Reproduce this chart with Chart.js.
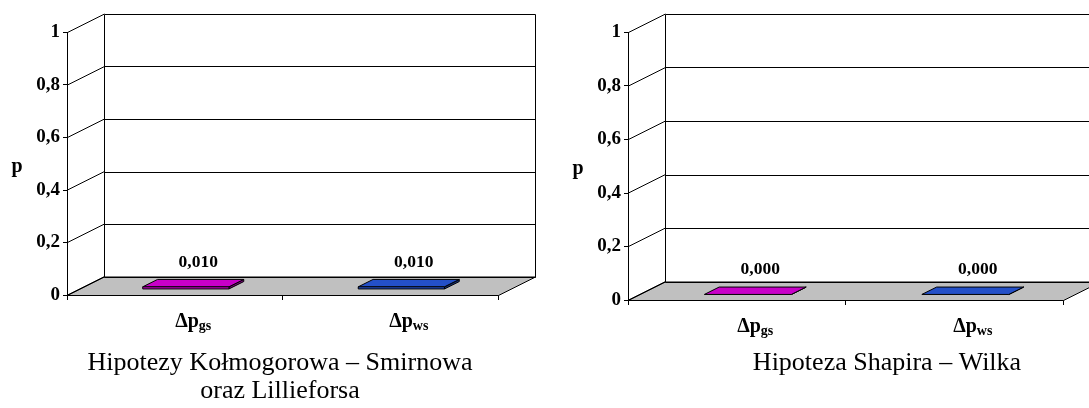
<!DOCTYPE html>
<html><head><meta charset="utf-8">
<script src="https://cdn.jsdelivr.net/npm/chart.js@4.4.0/dist/chart.umd.min.js"></script>
<style>
html,body{margin:0;padding:0;background:#fff;overflow:hidden}
#wrap{position:relative;width:1089px;height:408px}
canvas{position:absolute;top:0}
</style></head><body>
<div id="wrap">
<canvas id="c1" width="545" height="408" style="left:0"></canvas>
<canvas id="c2" width="544" height="408" style="left:545px"></canvas>
</div>
<script>
// ---- data ----
const categoryMain = ['Δp', 'Δp'];
const categorySub = ['gs', 'ws'];
const valuesKS = [0.010, 0.010];   // Hipotezy Kołmogorowa – Smirnowa oraz Lillieforsa
const valuesSW = [0.000, 0.000];   // Hipoteza Shapira – Wilka
const barColors = ['#c800c8', '#2450c8'];
const yTicks = [0, 0.2, 0.4, 0.6, 0.8, 1];
const yTickLabels = ['0', '0,2', '0,4', '0,6', '0,8', '1'];
const axisTitle = 'p';
const captionKS = ['Hipotezy Kołmogorowa – Smirnowa', 'oraz Lillieforsa'];
const captionSW = ['Hipoteza Shapira – Wilka'];

const SERIF = "'Times New Roman', 'Liberation Serif', serif";

function shade(hex, k) {
  const n = parseInt(hex.slice(1), 16);
  const r = Math.round(((n >> 16) & 255) * k), g = Math.round(((n >> 8) & 255) * k), b = Math.round((n & 255) * k);
  return `rgb(${r},${g},${b})`;
}
function poly(ctx, pts, fill) {
  ctx.beginPath();
  pts.forEach((p, i) => i ? ctx.lineTo(p[0], p[1]) : ctx.moveTo(p[0], p[1]));
  ctx.closePath();
  if (fill) { ctx.fillStyle = fill; ctx.fill(); }
  ctx.stroke();
}

const pseudo3d = {
  id: 'pseudo3d',
  beforeDatasetsDraw(chart, args, o) {
    const {ctx, chartArea: a, scales: {y}} = chart;
    const dx = o.dx, dy = o.dy;
    ctx.save();
    ctx.lineWidth = 1; ctx.strokeStyle = '#000';
    const L = Math.round(a.left) + 0.5, R = Math.round(a.right) + 0.5;
    const B = Math.round(a.bottom) + 0.5;
    // floor
    poly(ctx, [[L, B], [R, B], [R + dx, B + dy], [L + dx, B + dy]], '#c0c0c0');
    // back wall grid + side diagonals
    yTicks.forEach(v => {
      const fy = y.getPixelForValue(v);
      const by = Math.round(fy + dy) + 0.5;
      ctx.beginPath(); ctx.moveTo(L + dx, by); ctx.lineTo(R + dx, by); ctx.stroke();
      ctx.beginPath(); ctx.moveTo(L, fy); ctx.lineTo(L + dx, fy + dy); ctx.stroke();
    });
    const top = Math.round(y.getPixelForValue(1) + dy) + 0.5;
    const bot = Math.round(y.getPixelForValue(0) + dy) + 0.5;
    ctx.beginPath(); ctx.moveTo(L + dx, top); ctx.lineTo(L + dx, bot); ctx.stroke();
    ctx.beginPath(); ctx.moveTo(R + dx, top); ctx.lineTo(R + dx, bot); ctx.stroke();
    ctx.beginPath(); ctx.moveTo(L, y.getPixelForValue(1)); ctx.lineTo(L, B); ctx.stroke();
    ctx.restore();
  },
  beforeDatasetDraw() { return false; },
  afterDatasetsDraw(chart, args, o) {
    const {ctx, chartArea: a, scales: {x}} = chart;
    const dx = o.dx, dy = o.dy;
    ctx.save();
    ctx.lineWidth = 1; ctx.strokeStyle = '#000';
    const ds = chart.data.datasets[0];
    const meta = chart.getDatasetMeta(0);
    meta.data.forEach((bar, i) => {
      const p = bar.getProps(['x', 'y', 'base', 'width'], true);
      const col = bar.options.backgroundColor;
      const l = p.x - p.width / 2, r = p.x + p.width / 2;
      const fx = dx * o.front, fy = dy * o.front, kx = dx * o.back, ky = dy * o.back;
      const t = p.y, b = p.base;
      poly(ctx, [[r + fx, t + fy], [r + kx, t + ky], [r + kx, b + ky], [r + fx, b + fy]], shade(col, 0.6));
      poly(ctx, [[l + fx, t + fy], [r + fx, t + fy], [r + kx, t + ky], [l + kx, t + ky]], col);
      if (b - t > 0.5) poly(ctx, [[l + fx, t + fy], [r + fx, t + fy], [r + fx, b + fy], [l + fx, b + fy]], col);
      // value label
      ctx.fillStyle = '#000';
      ctx.font = `bold 17.5px ${SERIF}`;
      ctx.textAlign = 'center'; ctx.textBaseline = 'middle';
      ctx.fillText(ds.data[i].toFixed(3).replace('.', ','), p.x + dx * 0.5 + 5, t + dy * 0.5 - 21);
    });
    // category labels with subscripts
    chart.data.labels.forEach((lab, i) => {
      const cx = x.getPixelForValue(i) + dx * 0.5;
      const base = a.bottom + 32;
      ctx.font = `bold 20px ${SERIF}`;
      const wm = ctx.measureText(categoryMain[i]).width;
      ctx.font = `bold 14px ${SERIF}`;
      const ws = ctx.measureText(categorySub[i]).width;
      const sx = cx - (wm + ws) / 2;
      ctx.textAlign = 'left'; ctx.textBaseline = 'alphabetic'; ctx.fillStyle = '#000';
      ctx.font = `bold 20px ${SERIF}`;
      ctx.fillText(categoryMain[i], sx, base);
      ctx.font = `bold 14px ${SERIF}`;
      ctx.fillText(categorySub[i], sx + wm, base + 3);
    });
    // axis title
    ctx.font = `bold 20px ${SERIF}`;
    ctx.textAlign = 'center'; ctx.textBaseline = 'middle';
    ctx.fillText(axisTitle, a.left - 50, (a.top + a.bottom) / 2 + 3);
    // caption
    ctx.font = `26px ${SERIF}`;
    ctx.textBaseline = 'alphabetic';
    o.caption.forEach((line, k) => ctx.fillText(line, o.capX, o.capY + k * 28));
    ctx.restore();
  }
};

function makeChart(id, values, yW, xH, padR, capX, caption) {
  return new Chart(document.getElementById(id), {
    type: 'bar',
    data: {
      labels: categoryMain.map((m, i) => m + categorySub[i]),
      datasets: [{ data: values, backgroundColor: barColors, categoryPercentage: 0.4, barPercentage: 1 }]
    },
    options: {
      responsive: false, animation: false, devicePixelRatio: 1,
      layout: { padding: { left: 0, right: padR, top: 32.5, bottom: 0 } },
      plugins: {
        legend: { display: false }, tooltip: { enabled: false }, title: { display: false },
        pseudo3d: { dx: 37, dy: -18.5, front: 0.3, back: 0.7, capX: capX, capY: 370, caption: caption }
      },
      scales: {
        x: {
          type: 'category', offset: true,
          grid: { offset: true, drawOnChartArea: false, drawTicks: true, tickLength: 5, color: '#000' },
          border: { display: true, color: '#000', width: 1 },
          ticks: { display: false },
          afterFit: s => { s.height = xH; }
        },
        y: {
          type: 'linear', min: 0, max: 1,
          afterBuildTicks: s => { s.ticks = yTicks.map(v => ({ value: v })); },
          grid: { drawOnChartArea: false, drawTicks: true, tickLength: 4, color: '#000' },
          border: { display: true, color: '#000', width: 1 },
          ticks: {
            padding: 3, color: '#000', font: { family: SERIF, size: 19, weight: 'bold' },
            callback: v => yTickLabels[yTicks.findIndex(t => Math.abs(t - v) < 1e-9)]
          },
          afterFit: s => { s.width = yW; }
        }
      }
    },
    plugins: [pseudo3d]
  });
}

makeChart('c1', valuesKS, 67, 113, 47, 280, captionKS);
makeChart('c2', valuesSW, 83, 108, 26, 342, captionSW);
</script>
</body></html>
